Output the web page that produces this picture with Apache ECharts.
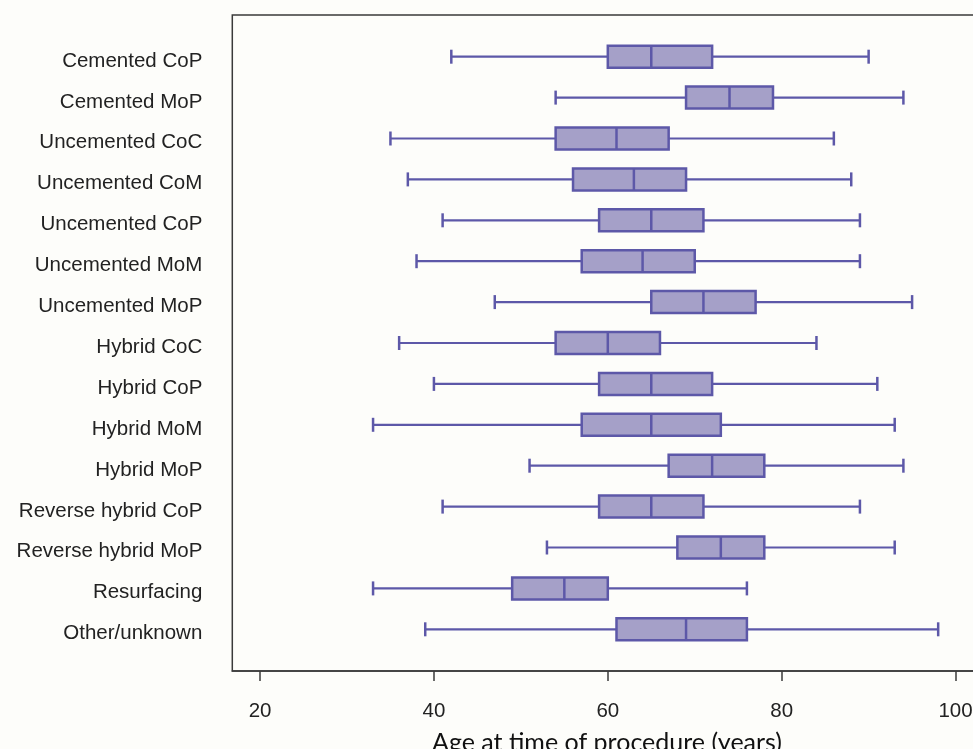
<!DOCTYPE html>
<html>
<head>
<meta charset="utf-8">
<script src="https://cdn.jsdelivr.net/npm/echarts@6/dist/echarts.min.js"></script>
<style>
html,body{margin:0;padding:0;background:#fdfdfa;}
#chart{width:973px;height:749px;}
</style>
</head>
<body>
<div id="chart"></div>
<script>
const categories = ['Cemented CoP','Cemented MoP','Uncemented CoC','Uncemented CoM','Uncemented CoP','Uncemented MoM','Uncemented MoP','Hybrid CoC','Hybrid CoP','Hybrid MoM','Hybrid MoP','Reverse hybrid CoP','Reverse hybrid MoP','Resurfacing','Other/unknown'];
const whiskerLow  = [42, 54, 35, 37, 41, 38, 47, 36, 40, 33, 51, 41, 53, 33, 39];
const q1          = [60, 69, 54, 56, 59, 57, 65, 54, 59, 57, 67, 59, 68, 49, 61];
const median      = [65, 74, 61, 63, 65, 64, 71, 60, 65, 65, 72, 65, 73, 55, 69];
const q3          = [72, 79, 67, 69, 71, 70, 77, 66, 72, 73, 78, 71, 78, 60, 76];
const whiskerHigh = [90, 94, 86, 88, 89, 89, 95, 84, 91, 93, 94, 89, 93, 76, 98];
const xTicks = [20, 40, 60, 80, 100];
const xTitle = 'Age at time of procedure (years)';

const data = categories.map((c, i) => [i, whiskerLow[i], q1[i], median[i], q3[i], whiskerHigh[i]]);

const XMIN = 16.81, XMAX = 103.19;
const lineColor = '#5d58a8';
const fillColor = '#a5a0c8';
const labelFont = 'Liberation Sans';

const chart = echarts.init(document.getElementById('chart'), null, {renderer: 'canvas'});
chart.setOption({
  backgroundColor: '#fdfdfa',
  animation: false,
  grid: [
    {left: 232.3, top: 15, width: 751, height: 656, show: true, borderColor: '#3a3a3a', borderWidth: 1.5, backgroundColor: 'transparent', containLabel: false, outerBoundsMode: 'none'},
    {left: 232.3, top: 36.25, width: 751, height: 613.5, containLabel: false, outerBoundsMode: 'none'},
    {left: 232.3, top: 40.5, width: 751, height: 613.5, containLabel: false, outerBoundsMode: 'none'}
  ],
  xAxis: [
    {
      gridIndex: 0, type: 'value', min: XMIN, max: XMAX, position: 'bottom',
      axisLine: {show: true, onZero: false, lineStyle: {color: '#3a3a3a', width: 1.5}},
      axisTick: {show: true, length: 10, inside: false, customValues: xTicks, lineStyle: {color: '#3a3a3a', width: 1.5}},
      axisLabel: {show: true, customValues: xTicks, margin: 30, fontSize: 20.5, color: '#222', fontFamily: labelFont},
      splitLine: {show: false}
    },
    {gridIndex: 1, type: 'value', min: XMIN, max: XMAX, show: false},
    {gridIndex: 2, type: 'value', min: XMIN, max: XMAX, show: false}
  ],
  yAxis: [
    {gridIndex: 0, type: 'value', min: 0, max: 1, show: false},
    {gridIndex: 1, type: 'category', data: categories, inverse: true, show: false},
    {
      gridIndex: 2, type: 'category', data: categories, inverse: true,
      axisLine: {show: false}, axisTick: {show: false}, splitLine: {show: false},
      axisLabel: {margin: 30, fontSize: 20.5, color: '#222', fontFamily: labelFont, interval: 0}
    }
  ],
  graphic: [
    {type: 'text', x: 607, y: 730, silent: true,
     style: {text: xTitle, fontSize: 25, fontFamily: 'Lato', fill: '#111', align: 'center', verticalAlign: 'top'}}
  ],
  series: [{
    type: 'custom',
    xAxisIndex: 1, yAxisIndex: 1,
    data: data,
    encode: {y: 0, x: [1, 2, 3, 4, 5]},
    renderItem: function (params, api) {
      const idx = api.value(0);
      const lo = api.coord([api.value(1), idx]);
      const a = api.coord([api.value(2), idx]);
      const m = api.coord([api.value(3), idx]);
      const b = api.coord([api.value(4), idx]);
      const hi = api.coord([api.value(5), idx]);
      const y = lo[1];
      const bh = 22, ch = 14;
      const ls = {stroke: lineColor, lineWidth: 2.2};
      return {
        type: 'group',
        children: [
          {type: 'line', shape: {x1: lo[0], y1: y, x2: a[0], y2: y}, style: ls},
          {type: 'line', shape: {x1: b[0], y1: y, x2: hi[0], y2: y}, style: ls},
          {type: 'line', shape: {x1: lo[0], y1: y - ch / 2, x2: lo[0], y2: y + ch / 2}, style: {stroke: lineColor, lineWidth: 2.5}},
          {type: 'line', shape: {x1: hi[0], y1: y - ch / 2, x2: hi[0], y2: y + ch / 2}, style: {stroke: lineColor, lineWidth: 2.5}},
          {type: 'rect', shape: {x: a[0], y: y - bh / 2, width: b[0] - a[0], height: bh}, style: {fill: fillColor, stroke: lineColor, lineWidth: 2.5}},
          {type: 'line', shape: {x1: m[0], y1: y - bh / 2, x2: m[0], y2: y + bh / 2}, style: {stroke: lineColor, lineWidth: 2.5}}
        ]
      };
    }
  }]
});
</script>
</body>
</html>
